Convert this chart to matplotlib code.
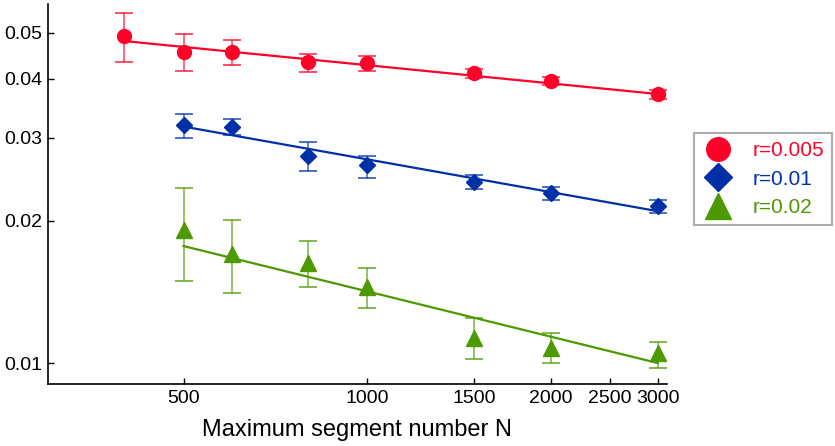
import numpy as np
import matplotlib
matplotlib.use('Agg')
import matplotlib.pyplot as plt
from matplotlib.lines import Line2D
from matplotlib.ticker import FixedLocator, NullLocator, FixedFormatter

plt.rcParams['font.family'] = ['Liberation Sans', 'DejaVu Sans']

# data
n_red = [400, 500, 600, 800, 1000, 1500, 2000, 3000]
y_red = [0.0493, 0.0456, 0.0455, 0.0434, 0.0431, 0.0411, 0.0395, 0.0371]
lo_red = [0.0434, 0.0415, 0.0427, 0.0413, 0.0416, 0.0402, 0.0387, 0.0363]
hi_red = [0.0551, 0.0497, 0.0482, 0.0450, 0.0446, 0.0420, 0.0403, 0.0379]

n_blue = [500, 600, 800, 1000, 1500, 2000, 3000]
y_blue = [0.0319, 0.0316, 0.0275, 0.0262, 0.0242, 0.0229, 0.0215]
lo_blue = [0.0299, 0.0304, 0.0255, 0.0247, 0.0234, 0.0221, 0.0208]
hi_blue = [0.0337, 0.0328, 0.0294, 0.0275, 0.0250, 0.0236, 0.0221]

n_green = [500, 600, 800, 1000, 1500, 2000, 3000]
y_green = [0.0191, 0.0170, 0.0163, 0.0145, 0.0113, 0.0108, 0.0105]
lo_green = [0.0149, 0.0141, 0.0145, 0.0131, 0.0102, 0.0100, 0.0098]
hi_green = [0.0235, 0.0201, 0.0181, 0.0159, 0.0125, 0.0116, 0.0111]

# power-law fits: value at N=1000 and exponent
fit_amp = [0.0427, 0.0270, 0.0142]
fit_exp = [-0.128, -0.230, -0.318]

labels = ['r=0.005', 'r=0.01', 'r=0.02']
colors = ['#ff0028', '#0030a8', '#4c9a00']
markers = ['o', 'D', '^']
msizes = [10, 8.5, 11]

xticks = [500, 1000, 1500, 2000, 2500, 3000]
yticks = [0.01, 0.02, 0.03, 0.04, 0.05]

fig = plt.figure(figsize=(8.35, 4.46), dpi=100)
ax = fig.add_axes([0.0578, 0.1383, 0.7405, 0.8527])

series = [(n_red, y_red, lo_red, hi_red),
          (n_blue, y_blue, lo_blue, hi_blue),
          (n_green, y_green, lo_green, hi_green)]

for i, (n, y, lo, hi) in enumerate(series):
    n = np.array(n); y = np.array(y)
    err = [y - np.array(lo), np.array(hi) - y]
    ax.errorbar(n, y, yerr=err, fmt='none', ecolor=colors[i], elinewidth=1.1,
                capsize=6.5, capthick=1.3, alpha=0.75, zorder=2)
    nn = np.array([n.min(), n.max()])
    ax.plot(nn, fit_amp[i] * (nn / 1000.0) ** fit_exp[i], color=colors[i], lw=1.6, zorder=3)
    ax.plot(n, y, ls='none', marker=markers[i], ms=msizes[i], color=colors[i],
            mec=colors[i], zorder=4)

ax.set_xscale('log')
ax.set_yscale('log')
ax.set_xlim(300, 3100)
ax.set_ylim(0.00903, 0.0575)

ax.xaxis.set_major_locator(FixedLocator(xticks))
ax.xaxis.set_major_formatter(FixedFormatter([str(t) for t in xticks]))
ax.xaxis.set_minor_locator(NullLocator())
ax.yaxis.set_major_locator(FixedLocator(yticks))
ax.yaxis.set_major_formatter(FixedFormatter(['%.2f' % t for t in yticks]))
ax.yaxis.set_minor_locator(NullLocator())

ax.spines['top'].set_visible(False)
ax.spines['right'].set_visible(False)
for s in ['left', 'bottom']:
    ax.spines[s].set_linewidth(1.2)
ax.tick_params(direction='in', length=4, width=1, labelsize=14, pad=4)

ax.set_xlabel('Maximum segment number N', fontsize=17, labelpad=9)

handles = [Line2D([], [], ls='none', marker=markers[i], color=colors[i],
                  ms=[17, 14, 19][i]) for i in range(3)]
leg = fig.legend(handles, labels, loc='upper left', bbox_to_anchor=(0.831, 0.702),
                 borderaxespad=0, fontsize=15, frameon=True, fancybox=False,
                 edgecolor='#999999', handletextpad=0.9, borderpad=0.4,
                 labelspacing=0.45, handlelength=1.5)
leg.get_frame().set_linewidth(1.5)
for t, c in zip(leg.get_texts(), colors):
    t.set_color(c)

fig.savefig('out.png', dpi=100)
